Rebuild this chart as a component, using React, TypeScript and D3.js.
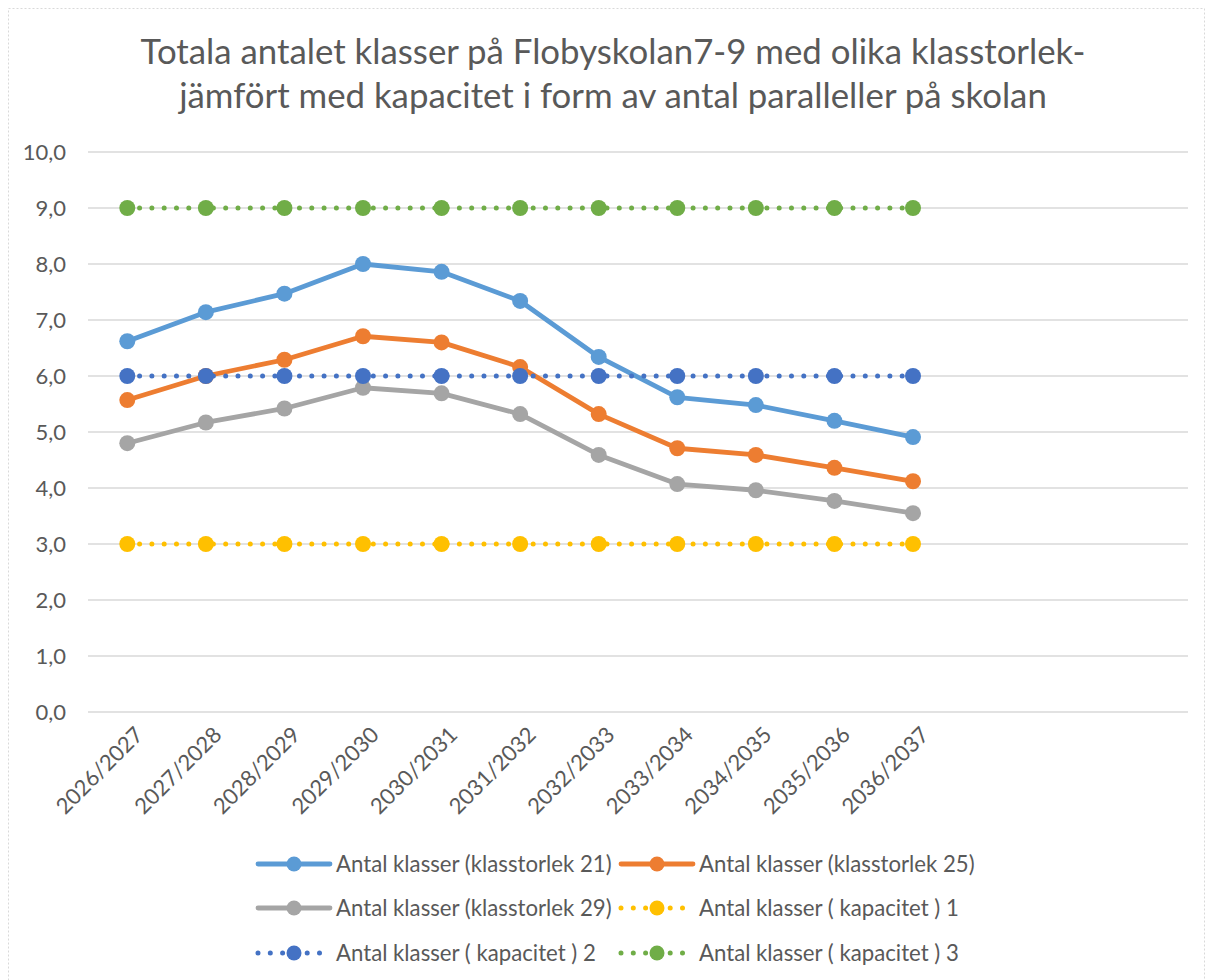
import React from "react";
import * as d3 from "d3";

const categories = ["2026/2027","2027/2028","2028/2029","2029/2030","2030/2031","2031/2032","2032/2033","2033/2034","2034/2035","2035/2036","2036/2037"];
const size21 = [6.62, 7.14, 7.47, 8.0, 7.86, 7.34, 6.34, 5.62, 5.48, 5.2, 4.91];
const size25 = [5.57, 6.0, 6.29, 6.71, 6.6, 6.16, 5.32, 4.71, 4.59, 4.36, 4.12];
const size29 = [4.8, 5.17, 5.42, 5.79, 5.69, 5.32, 4.59, 4.07, 3.96, 3.77, 3.55];
const capacity1 = [3, 3, 3, 3, 3, 3, 3, 3, 3, 3, 3];
const capacity2 = [6, 6, 6, 6, 6, 6, 6, 6, 6, 6, 6];
const capacity3 = [9, 9, 9, 9, 9, 9, 9, 9, 9, 9, 9];
const yTicks = [0, 1, 2, 3, 4, 5, 6, 7, 8, 9, 10];
const titleLines = [
  "Totala antalet klasser på Flobyskolan7-9 med olika klasstorlek-",
  "jämfört med kapacitet i form av antal paralleller på skolan",
];

const series = [
  { name: "Antal klasser (klasstorlek 21)", values: size21, color: "#5B9BD5", dotted: false },
  { name: "Antal klasser (klasstorlek 25)", values: size25, color: "#ED7D31", dotted: false },
  { name: "Antal klasser (klasstorlek 29)", values: size29, color: "#A5A5A5", dotted: false },
  { name: "Antal klasser ( kapacitet ) 1", values: capacity1, color: "#FFC000", dotted: true },
  { name: "Antal klasser ( kapacitet ) 2", values: capacity2, color: "#4472C4", dotted: true },
  { name: "Antal klasser ( kapacitet ) 3", values: capacity3, color: "#70AD47", dotted: true },
];

const FONT = "Lato, 'Open Sans', sans-serif";
const TEXT = "#595959";
const SLOTS = 14;

export default function App() {
  const left = 88, right = 1188, top = 152, bottom = 712;
  const x = d3.scaleLinear().domain([-0.5, SLOTS - 0.5]).range([left, right]);
  const y = d3.scaleLinear().domain([0, 10]).range([bottom, top]);
  const line = d3.line<number>().x((_, i) => x(i)).y((d) => y(d));
  const fmt = (v: number) => v.toFixed(1).replace(".", ",");

  const legendCols = [258, 621];
  const legendRows = [864, 908, 953];

  return (
    <svg width={1206} height={980} style={{ position: "absolute", left: 0, top: 0, background: "#fff" }} fontFamily={FONT}>
      <rect x={8.5} y={8.5} width={1196} height={980} fill="#fff" stroke="#D9D9D9" strokeDasharray="2 2" />
      {titleLines.map((t, i) => (
        <text key={i} x={613} y={64 + i * 44} textAnchor="middle" fontSize={34.8} fill={TEXT}>{t}</text>
      ))}
      {yTicks.map((t) => (
        <g key={t}>
          <line x1={left} x2={right} y1={y(t)} y2={y(t)} stroke="#D9D9D9" strokeWidth={1.5} />
          <text x={66} y={y(t)} dy="0.36em" textAnchor="end" fontSize={22} fill={TEXT}>{fmt(t)}</text>
        </g>
      ))}
      {categories.map((c, i) => (
        <text key={c} transform={`translate(${x(i) + 6},${725}) rotate(-45)`} textAnchor="end" dy="0.72em" fontSize={22} fill={TEXT}>{c}</text>
      ))}
      {series.map((s) => (
        <g key={s.name}>
          <path d={line(s.values) || ""} fill="none" stroke={s.color} strokeWidth={s.dotted ? 5 : 4.8}
            strokeLinecap="round" strokeLinejoin="round" strokeDasharray={s.dotted ? "0 12.3" : undefined} />
          {s.values.map((v, i) => (
            <circle key={i} cx={x(i)} cy={y(v)} r={8} fill={s.color} />
          ))}
        </g>
      ))}
      {series.map((s, i) => {
        const lx = legendCols[i % 2];
        const ly = legendRows[Math.floor(i / 2)];
        return (
          <g key={s.name}>
            <line x1={lx} x2={lx + 72} y1={ly} y2={ly} stroke={s.color} strokeWidth={s.dotted ? 5 : 4.8}
              strokeLinecap="round" strokeDasharray={s.dotted ? "0 12.3" : undefined} />
            <circle cx={lx + 36} cy={ly} r={7.5} fill={s.color} />
            <text x={lx + 78} y={ly} dy="0.36em" fontSize={22.2} fill={TEXT}>{s.name}</text>
          </g>
        );
      })}
    </svg>
  );
}
